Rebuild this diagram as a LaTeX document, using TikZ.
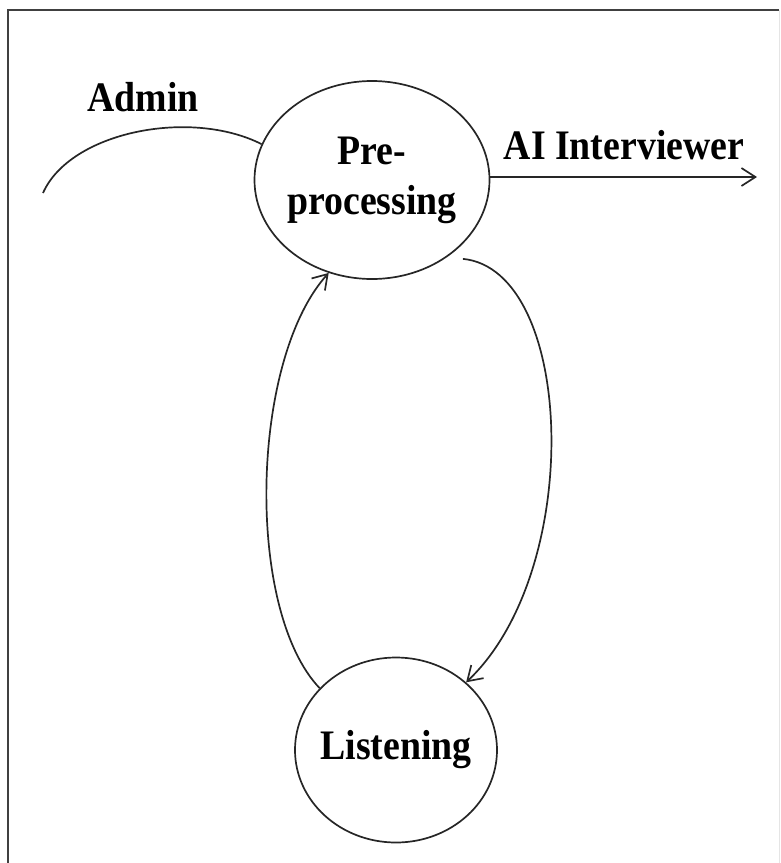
\documentclass[tikz,border=0pt]{standalone}
\usepackage{fontspec}
\setmainfont{Liberation Serif}[FakeStretch=0.9]
\usetikzlibrary{shapes.geometric, arrows.meta}
\tikzset{
  stato/.style={draw, ellipse, inner sep=-12pt, align=center, font=\fontsize{21}{25}\selectfont\bfseries},
  etichetta/.style={font=\fontsize{21}{25}\selectfont\bfseries}
}
\begin{document}
\begin{tikzpicture}[x=0.5pt, y=-0.5pt, line width=0.85pt, draw=black!85, ->, >={Straight Barb[length=7pt, width=9pt]}]
  \useasboundingbox (0,0) rectangle (781,863);
  \draw[-, line width=1.1pt, black!75] (8,880) |- (779,10);
  \draw[-, line width=0.5pt, black!10] (779,10) -- (779,880);
  \node[stato, minimum width=117.5pt, minimum height=99pt] (pre) at (372,180) {Pre-\\processing};
  \node[stato, minimum width=101pt, minimum height=92.5pt] (listen) at (396,750) {Listening};
  \node[etichetta] (admin) at (143,97) {Admin};
  \node[etichetta] (ai) at (624,145) {AI Interviewer};
  \coordinate (adminend) at (43,193);
  \coordinate (aiend) at (757,177);
  \draw[-] (adminend) .. controls (70,132) and (190,108) .. (pre.162);
  \draw (pre.east |- aiend) -- (aiend);
  \draw ([shift={(10,6)}]pre.-42) .. controls (575,270) and (585,570) .. (listen.44);
  \draw (listen.141) .. controls (245,610) and (250,360) .. (pre.245);
\end{tikzpicture}
\end{document}
